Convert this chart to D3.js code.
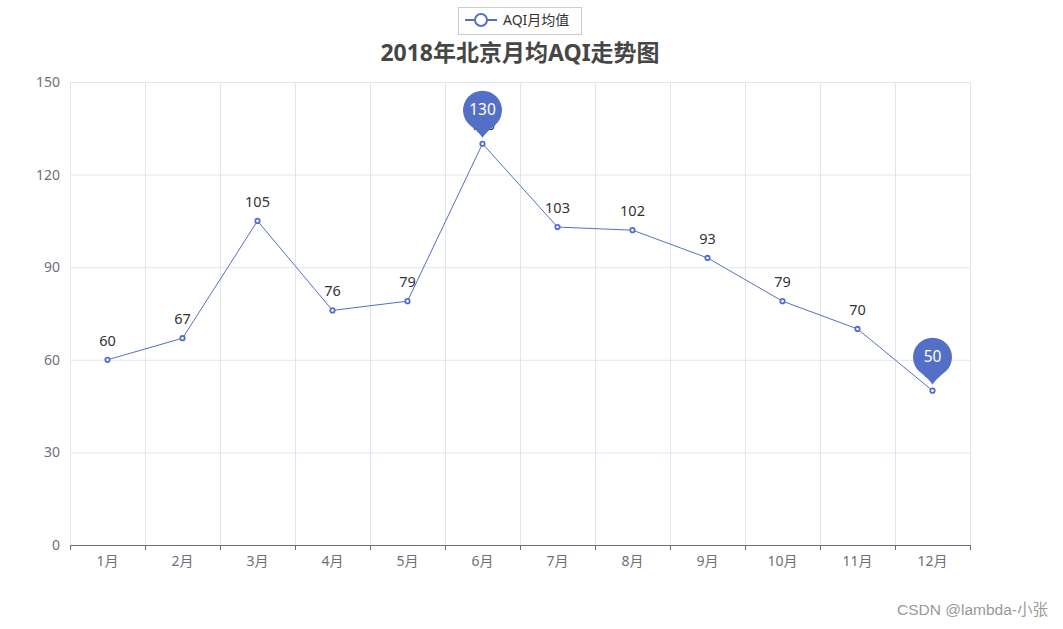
<!DOCTYPE html>
<html><head><meta charset="utf-8">
<script src="https://cdn.jsdelivr.net/npm/d3@7/dist/d3.min.js"></script>
<style>body{margin:0;background:#fff;}svg{display:block;font-family:"Noto Sans","Noto Sans CJK SC",sans-serif;}</style>
</head><body>
<svg id="c" width="1063" height="629"></svg>
<script>
const categories = ["1月","2月","3月","4月","5月","6月","7月","8月","9月","10月","11月","12月"];
const aqiValues = [60,67,105,76,79,130,103,102,93,79,70,50];
const yTicks = [0,30,60,90,120,150];
const seriesName = "AQI月均值";
const titleText = "2018年北京月均AQI走势图";

const svg = d3.select("#c");
const color = "#5470c6";
const L = 70, R = 970, T = 82, B = 545;
const x = d3.scaleBand().domain(categories).range([L, R]);
const y = d3.scaleLinear().domain([0,150]).range([B, T]);

// grid
const g = svg.append("g");
g.selectAll(".hg").data(yTicks.filter(d=>d>0)).enter().append("line")
  .attr("x1",L).attr("x2",R).attr("y1",d=>y(d)+0.5).attr("y2",d=>y(d)+0.5)
  .attr("stroke","#e0e6f1").attr("stroke-width",1);
const bounds = categories.map(c=>x(c)).concat([R]);
g.selectAll(".vg").data(bounds).enter().append("line")
  .attr("x1",d=>Math.round(d)+0.5).attr("x2",d=>Math.round(d)+0.5).attr("y1",T).attr("y2",B)
  .attr("stroke","#e0e6f1").attr("stroke-width",1);

// y labels
svg.selectAll(".yl").data(yTicks).enter().append("text")
  .attr("x",L-10).attr("y",d=>y(d)).attr("dy","0.35em").attr("text-anchor","end")
  .attr("fill","#6e7079").attr("font-size",14).text(d=>d);

// x axis
svg.append("line").attr("x1",L).attr("x2",R).attr("y1",B+0.5).attr("y2",B+0.5)
  .attr("stroke","#6e7079").attr("stroke-width",1);
svg.selectAll(".xt").data(bounds).enter().append("line")
  .attr("x1",d=>Math.round(d)+0.5).attr("x2",d=>Math.round(d)+0.5).attr("y1",B).attr("y2",B+5)
  .attr("stroke","#6e7079").attr("stroke-width",1);
svg.selectAll(".xl").data(categories).enter().append("text")
  .attr("x",d=>x(d)+x.bandwidth()/2).attr("y",B+16).attr("dy","0.35em").attr("text-anchor","middle")
  .attr("fill","#6e7079").attr("font-size",14).text(d=>d);

const cx = (d,i)=>x(categories[i])+x.bandwidth()/2;
// line
const line = d3.line().x((d,i)=>cx(d,i)).y(d=>y(d));
svg.append("path").datum(aqiValues).attr("d",line).attr("fill","none")
  .attr("stroke",color).attr("stroke-width",1);

// labels
svg.selectAll(".dl").data(aqiValues).enter().append("text")
  .attr("x",(d,i)=>cx(d,i)).attr("y",d=>y(d)-14).attr("text-anchor","middle")
  .attr("fill","#333").attr("font-size",14.5).text(d=>d);

// points
svg.selectAll(".pt").data(aqiValues).enter().append("circle")
  .attr("cx",(d,i)=>cx(d,i)).attr("cy",d=>y(d)).attr("r",2.2)
  .attr("fill","#fff").attr("stroke",color).attr("stroke-width",1.8);

// mark points (max, min)
const maxI = aqiValues.indexOf(d3.max(aqiValues));
const minI = aqiValues.indexOf(d3.min(aqiValues));
const pinPath = "M0,-6 Q-3,-11 -12.8,-18.8 A19.5,19.5 0 1,1 12.8,-18.8 Q3,-11 0,-6 Z";
[maxI,minI].forEach(i=>{
  const px = cx(aqiValues[i],i), py = y(aqiValues[i]);
  const pg = svg.append("g").attr("transform",`translate(${px},${py})`);
  pg.append("path").attr("d",pinPath).attr("fill",color);
  pg.append("text").attr("x",0).attr("y",-34).attr("dy","0.35em").attr("text-anchor","middle")
    .attr("fill","#fff").attr("font-size",15.5).text(aqiValues[i]);
});

// title
svg.append("text").attr("x",520).attr("y",53).attr("dy","0.35em").attr("text-anchor","middle")
  .attr("font-size",23).attr("font-weight","bold").attr("fill","#464646").text(titleText);

// legend
svg.append("rect").attr("x",458.5).attr("y",7.5).attr("width",123).attr("height",27)
  .attr("fill","#fff").attr("stroke","#ccc").attr("stroke-width",1);
svg.append("line").attr("x1",465).attr("x2",497).attr("y1",20).attr("y2",20).attr("stroke",color).attr("stroke-width",2);
svg.append("circle").attr("cx",481).attr("cy",20).attr("r",6).attr("fill","#fff").attr("stroke",color).attr("stroke-width",2);
svg.append("text").attr("x",503).attr("y",20).attr("dy","0.35em").attr("font-size",14).attr("fill","#333").text(seriesName);

// watermark
svg.append("text").attr("x",1048).attr("y",610).attr("dy","0.35em").attr("text-anchor","end")
  .attr("font-family","'Liberation Sans','Noto Sans CJK SC',sans-serif")
  .attr("font-size",15.5).attr("fill","#999").text("CSDN @lambda-小张");
</script>
</body></html>
